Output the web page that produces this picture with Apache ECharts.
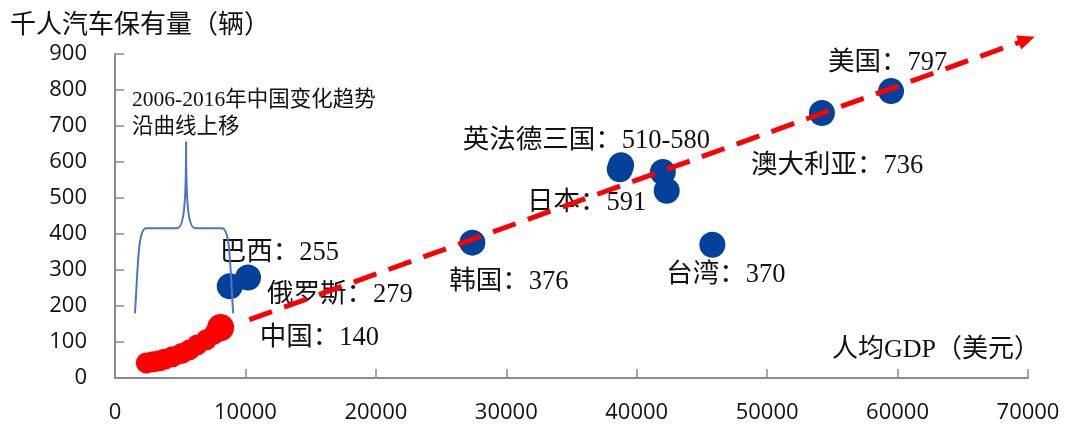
<!DOCTYPE html>
<html>
<head>
<meta charset="utf-8">
<script src="https://cdn.jsdelivr.net/npm/echarts@6/dist/echarts.min.js"></script>
<style>
  html, body { margin: 0; padding: 0; background: #ffffff; }
  #chart { width: 1078px; height: 428px; }
</style>
</head>
<body>
<div id="chart"></div>
<script>
// Per-capita GDP (USD) against cars per 1000 inhabitants
const countries    = ['巴西', '俄罗斯', '韩国', '日本', '法国', '德国', '英国', '台湾', '澳大利亚', '美国'];
const gdpPerCapita = [8800, 10200, 27400, 38800, 38700, 42000, 42300, 45800, 54200, 59500];
const carsPer1000  = [255, 279, 376, 591, 580, 572, 520, 370, 736, 797];

// UK, France and Germany share one caption
const europeMembers = ['法国', '德国', '英国'];
const europeCaption = '英法德三国：510-580';

// China, 2006-2016
const chinaYears = [2006, 2007, 2008, 2009, 2010, 2011, 2012, 2013, 2014, 2015, 2016];
const chinaGdp   = [2400, 2900, 3400, 3800, 4400, 5100, 5700, 6300, 7000, 7600, 8100];
const chinaCars  = [42, 45, 48, 52, 59, 68, 78, 92, 106, 122, 140];

// Trend arrow (start / end, in axis units)
const trendGdp  = [10300, 69900];
const trendCars = [162, 940];

// Axis ranges
const xRange = { min: 0, max: 70000, step: 10000 };
const yRange = { min: 0, max: 900, step: 100 };

// Brace marking the 2006-2016 China span (axis units)
const brace = { left: 1530, right: 9060, tip: 5450, foot: 180, shoulder: 416, peak: 657 };

// Caption placement: offset of each caption's left/middle from its point, px
const captionOffset = {
  '巴西': [-10, -33], '俄罗斯': [19, 17], '韩国': [-23, 39], '日本': [-94, 38],
  '法国': [-157, -28], '台湾': [-46, 30], '澳大利亚': [-71, 53], '美国': [-63, -28],
  '中国': [39, 10]
};

const SERIF = "'Liberation Serif', 'Noto Sans CJK SC', serif";
const CJK = "'Noto Sans CJK SC', sans-serif";
const TEXT = '#111111';
const AXIS = '#8a8a8a';

function caption(offset, text) {
  return {
    show: true, position: 'inside', align: 'left', verticalAlign: 'middle',
    offset: offset, formatter: text, color: TEXT, fontSize: 26.5, fontFamily: SERIF
  };
}

const countryData = countries.map((name, i) => {
  const item = { name: name, value: [gdpPerCapita[i], carsPer1000[i]] };
  if (name === europeMembers[0]) {
    item.label = caption(captionOffset[name], europeCaption);
  } else if (europeMembers.indexOf(name) < 0) {
    item.label = caption(captionOffset[name], name + '：' + carsPer1000[i]);
  }
  return item;
});

const chinaData = chinaYears.map((yr, i) => {
  const item = { name: String(yr), value: [chinaGdp[i], chinaCars[i]] };
  if (i === chinaYears.length - 1) {
    item.label = caption(captionOffset['中国'], '中国：' + chinaCars[i]);
    item.symbolSize = 27;
  }
  return item;
});

const trendData = trendGdp.map((g, i) => {
  const item = { value: [g, trendCars[i]] };
  if (i === trendGdp.length - 1) {
    item.symbol = 'triangle';
    item.symbolSize = [15, 17];
    item.symbolRotate = -70;
  }
  return item;
});

const chart = echarts.init(document.getElementById('chart'), null, { renderer: 'canvas' });

chart.setOption({
  animation: false,
  backgroundColor: '#ffffff',
  grid: { left: 115, right: 50, top: 54, bottom: 50, containLabel: false },
  xAxis: {
    type: 'value', min: xRange.min, max: xRange.max, interval: xRange.step,
    axisLine: { show: true, lineStyle: { color: AXIS, width: 2 } },
    axisTick: { show: true, inside: true, length: 9, lineStyle: { color: AXIS, width: 1.5 } },
    axisLabel: {
      margin: 24, color: TEXT, fontSize: 22, fontFamily: "'Open Sans', sans-serif",
      formatter: v => String(v)
    },
    splitLine: { show: false }
  },
  yAxis: {
    type: 'value', min: yRange.min, max: yRange.max, interval: yRange.step,
    axisLine: { show: true, lineStyle: { color: AXIS, width: 2 } },
    axisTick: { show: true, inside: true, length: 9, lineStyle: { color: AXIS, width: 1.5 } },
    axisLabel: {
      margin: 28, color: TEXT, fontSize: 22, fontFamily: "'Open Sans', sans-serif",
      formatter: v => String(v)
    },
    splitLine: { show: false }
  },
  graphic: [
    { type: 'text', x: 10, y: 23, silent: true,
      style: { text: '千人汽车保有量（辆）', fill: TEXT, fontSize: 26, fontFamily: CJK, verticalAlign: 'middle' } },
    { type: 'text', x: 132, y: 100, silent: true,
      style: { text: '2006-2016年中国变化趋势', fill: TEXT, fontSize: 21.5, fontFamily: SERIF, verticalAlign: 'middle' } },
    { type: 'text', x: 132, y: 127, silent: true,
      style: { text: '沿曲线上移', fill: TEXT, fontSize: 21.5, fontFamily: SERIF, verticalAlign: 'middle' } },
    { type: 'text', x: 832, y: 350, silent: true,
      style: { text: '人均GDP（美元）', fill: TEXT, fontSize: 26, fontFamily: SERIF, verticalAlign: 'middle' } }
  ],
  series: [
    {
      name: 'countries', type: 'scatter', symbol: 'circle', symbolSize: 26,
      itemStyle: { color: '#03419a', opacity: 1 },
      data: countryData, silent: true, z: 2
    },
    {
      name: 'china', type: 'scatter', symbol: 'circle', symbolSize: 21,
      itemStyle: { color: '#ff0000', opacity: 1 },
      data: chinaData, silent: true, z: 2
    },
    {
      name: 'trend', type: 'line', clip: false, symbol: 'none', silent: true, z: 3,
      lineStyle: { color: '#ff0000', width: 5, type: [24, 13] },
      itemStyle: { color: '#ff0000', borderWidth: 0 },
      data: trendData
    },
    {
      name: 'brace', type: 'custom', clip: false, silent: true, z: 4,
      data: [[brace.left, brace.foot]],
      renderItem: function (params, api) {
        const l = api.coord([brace.left, brace.foot]);
        const r = api.coord([brace.right, brace.foot]);
        const t = api.coord([brace.tip, brace.peak]);
        const s = api.coord([brace.tip, brace.shoulder])[1];
        const d = [
          'M', l[0], l[1],
          'C', l[0] + 3, s + 40, l[0] + 3, s, l[0] + 11, s,
          'L', t[0] - 9, s,
          'C', t[0] - 2, s, t[0], s - 25, t[0], t[1],
          'C', t[0], s - 25, t[0] + 2, s, t[0] + 9, s,
          'L', r[0] - 11, s,
          'C', r[0] - 3, s, r[0] - 3, s + 40, r[0], r[1]
        ].join(' ');
        return {
          type: 'path',
          shape: { pathData: d },
          style: { stroke: '#4a76c4', lineWidth: 2, fill: null }
        };
      }
    }
  ]
});
</script>
</body>
</html>
